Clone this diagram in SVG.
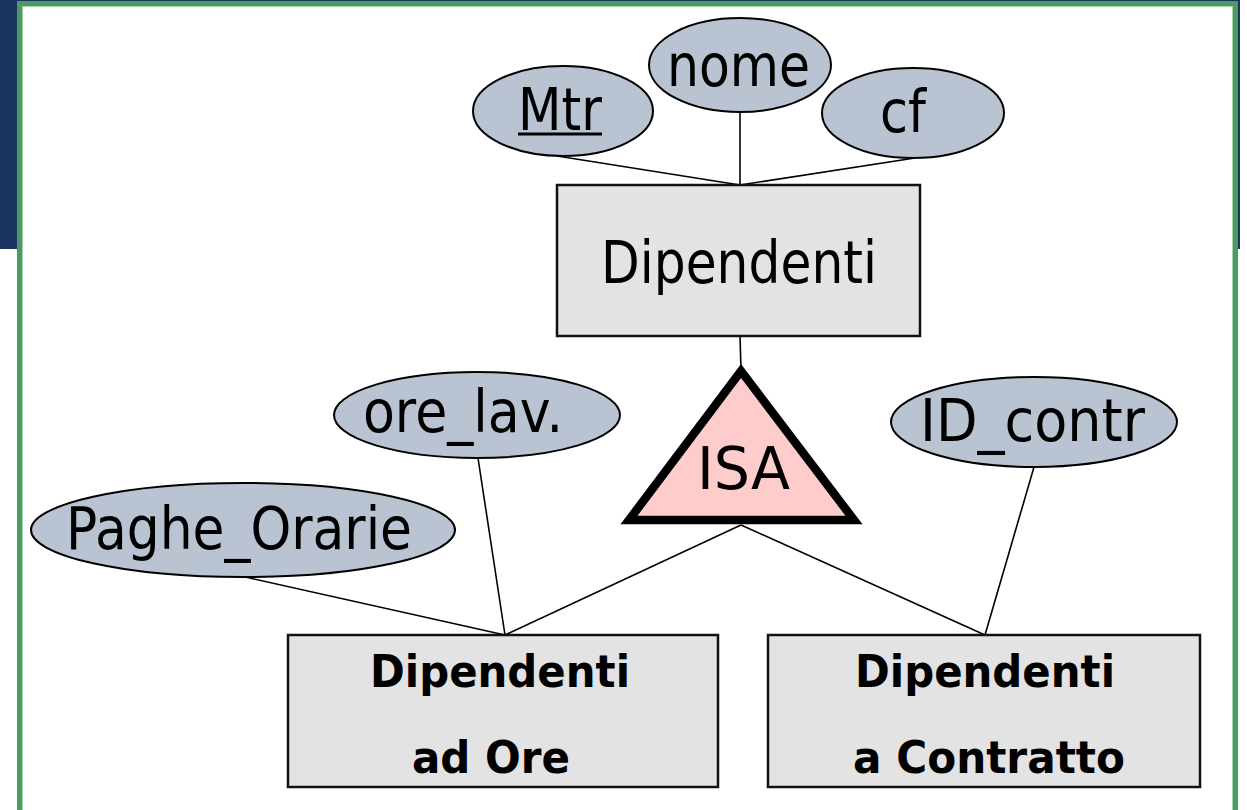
<svg xmlns="http://www.w3.org/2000/svg" width="1247" height="810" viewBox="0 0 1247 810">
  <style>
    .attr { fill: #b9c3d1; stroke: #000; stroke-width: 2; }
    .ent { fill: #e3e3e3; stroke: #111; stroke-width: 2.5; }
    .isa { fill: #ffcccc; stroke: #000; stroke-width: 8.5; stroke-linejoin: miter; }
    .lbl { font-family: "DejaVu Sans", "Liberation Sans", sans-serif; font-size: 58px; fill: #000; }
    .bold { font-family: "DejaVu Sans", "Liberation Sans", sans-serif; font-size: 45px; font-weight: bold; fill: #000; }
    .link { stroke: #000; stroke-width: 1.6; fill: none; }
  </style>

  <!-- slide background: header band and framed content area -->
  <rect x="0" y="0" width="1240" height="249" fill="#1b3462"/>
  <rect x="19.5" y="3.5" width="1216" height="820" fill="#ffffff" stroke="#4b9a63" stroke-width="5"/>
  <rect x="22.5" y="6.5" width="1210" height="820" fill="none" stroke="#a6d1b1" stroke-width="1"/>

  <!-- connectors -->
  <g id="connectors">
    <line class="link" x1="557" y1="156" x2="740" y2="185"/>
    <line class="link" x1="740" y1="112" x2="740" y2="185"/>
    <line class="link" x1="915" y1="158" x2="740" y2="185"/>
    <line class="link" x1="740" y1="336" x2="741" y2="370"/>
    <line class="link" x1="741" y1="525" x2="505" y2="635"/>
    <line class="link" x1="741" y1="525" x2="985" y2="635"/>
    <line class="link" x1="245" y1="577" x2="505" y2="635"/>
    <line class="link" x1="478" y1="458" x2="505" y2="635"/>
    <line class="link" x1="1034" y1="467" x2="985" y2="635"/>
  </g>

  <g id="attr-mtr">
    <ellipse class="attr" cx="563" cy="111" rx="90" ry="45"/>
    <text class="lbl" x="518" y="130" textLength="84" lengthAdjust="spacingAndGlyphs">Mtr</text>
    <line x1="518" y1="134" x2="602" y2="134" stroke="#000" stroke-width="3"/>
  </g>

  <g id="attr-nome">
    <ellipse class="attr" cx="740" cy="65" rx="91" ry="47"/>
    <text class="lbl" x="667" y="86" font-size="70" textLength="143" lengthAdjust="spacingAndGlyphs">nome</text>
  </g>

  <g id="attr-cf">
    <ellipse class="attr" cx="913" cy="113" rx="91" ry="45"/>
    <text class="lbl" x="880" y="132" textLength="46" lengthAdjust="spacingAndGlyphs">cf</text>
  </g>

  <g id="ent-dipendenti">
    <rect class="ent" x="557" y="185" width="363" height="151"/>
    <text class="lbl" x="601" y="283" font-size="55" textLength="276" lengthAdjust="spacingAndGlyphs">Dipendenti</text>
  </g>

  <g id="isa">
    <polygon class="isa" points="741,371 629,520 854,520"/>
    <text class="lbl" x="697" y="489" font-size="62" textLength="93" lengthAdjust="spacingAndGlyphs">ISA</text>
  </g>

  <g id="attr-ore-lav">
    <ellipse class="attr" cx="477" cy="415" rx="143" ry="43"/>
    <text class="lbl" x="363" y="432" font-size="54" textLength="200" lengthAdjust="spacingAndGlyphs">ore_lav.</text>
  </g>

  <g id="attr-paghe-orarie">
    <ellipse class="attr" cx="243" cy="530" rx="212" ry="47"/>
    <text class="lbl" x="66" y="549" textLength="346" lengthAdjust="spacingAndGlyphs">Paghe_Orarie</text>
  </g>

  <g id="attr-id-contr">
    <ellipse class="attr" cx="1034" cy="422" rx="143" ry="45"/>
    <text class="lbl" x="920" y="441" font-size="56" textLength="225" lengthAdjust="spacingAndGlyphs">ID_contr</text>
  </g>

  <g id="ent-dipendenti-ore">
    <rect class="ent" x="288" y="635" width="430" height="152"/>
    <text class="bold" x="370" y="687" textLength="260" lengthAdjust="spacingAndGlyphs">Dipendenti</text>
    <text class="bold" x="412" y="773" textLength="158" lengthAdjust="spacingAndGlyphs">ad Ore</text>
  </g>

  <g id="ent-dipendenti-contratto">
    <rect class="ent" x="768" y="635" width="432" height="152"/>
    <text class="bold" x="855" y="687" textLength="260" lengthAdjust="spacingAndGlyphs">Dipendenti</text>
    <text class="bold" x="853" y="773" textLength="272" lengthAdjust="spacingAndGlyphs">a Contratto</text>
  </g>
</svg>
